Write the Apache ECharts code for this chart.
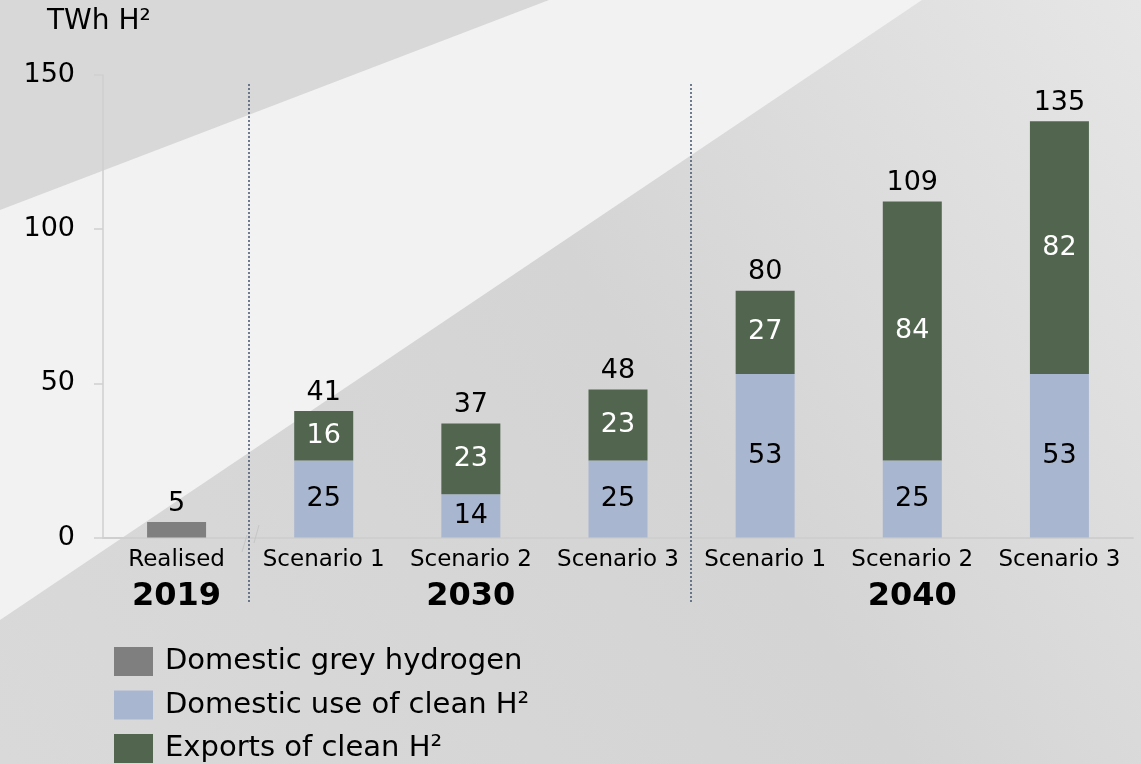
<!DOCTYPE html>
<html>
<head>
<meta charset="utf-8">
<script src="https://cdn.jsdelivr.net/npm/echarts@6/dist/echarts.min.js"></script>
<style>
  html, body { margin: 0; padding: 0; background: #d8d8d8; }
  #chart { width: 1141px; height: 764px; }
</style>
</head>
<body>
<div id="chart"></div>
<script>
// ---- data ----
const categories = ['Realised', 'Scenario 1', 'Scenario 2', 'Scenario 3', 'Scenario 1', 'Scenario 2', 'Scenario 3'];
const yearLabels = ['2019', '', '2030', '', '', '2040', ''];
const greyHydrogen = [5, '-', '-', '-', '-', '-', '-'];
const domesticClean = ['-', 25, 14, 25, 53, 25, 53];
const exportsClean = ['-', 16, 23, 23, 27, 84, 82];
const totals = [5, 41, 37, 48, 80, 109, 135];
const seriesNames = ['Domestic grey hydrogen', 'Domestic use of clean H²', 'Exports of clean H²'];
const yMin = 0, yMax = 150, yStep = 50;
const unitLabel = 'TWh H²';
// group separators lie between these category indices
const separatorsAfter = [0, 3];

const FONT = 'DejaVu Sans';
const chart = echarts.init(document.getElementById('chart'), null, { renderer: 'canvas' });

const background = [
  { type: 'rect', id: 'bg', z: -100, silent: true,
    shape: { x: 0, y: 0, width: 1141, height: 764 },
    style: { fill: new echarts.graphic.LinearGradient(1, 0, 0, 1, [
      { offset: 0, color: '#e6e6e6' }, { offset: 0.45, color: '#d4d4d4' }, { offset: 1, color: '#d9d9d9' }]) } },
  { type: 'polygon', id: 'bgTL', z: -99, silent: true,
    shape: { points: [[0, 0], [549, 0], [0, 210]] }, style: { fill: '#d8d8d8' } },
  { type: 'polygon', id: 'bgBand', z: -98, silent: true,
    shape: { points: [[0, 210], [549, 0], [922, 0], [0, 620]] }, style: { fill: '#f2f2f3' } }
];

const option = {
  backgroundColor: 'transparent',
  animation: false,
  textStyle: { fontFamily: FONT },
  title: {
    text: unitLabel, left: 47, top: 8, padding: 0,
    textStyle: { fontFamily: FONT, fontSize: 28, fontWeight: 'normal', color: '#000' }
  },
  legend: {
    data: seriesNames,
    orient: 'vertical', left: 114, top: 647, height: 130, padding: 0,
    itemWidth: 39, itemHeight: 29, itemGap: 14.5,
    icon: 'rect',
    textStyle: { fontFamily: FONT, fontSize: 29, color: '#000', padding: [0, 0, 0, 7] }
  },
  grid: { left: 103, right: 8, top: 75, bottom: 226.5, containLabel: false },
  xAxis: {
    type: 'category', data: categories,
    axisLine: { lineStyle: { color: '#cfcfcf', width: 2 } },
    axisTick: { show: false },
    axisLabel: {
      interval: 0, margin: 11,
      formatter: function (v, i) {
        return yearLabels[i] ? '{c|' + v + '}\n{y|' + yearLabels[i] + '}' : '{c|' + v + '}';
      },
      rich: {
        c: { fontFamily: FONT, fontSize: 23, color: '#000', lineHeight: 24 },
        y: { fontFamily: FONT, fontSize: 32, fontWeight: 'bold', color: '#000', lineHeight: 48 }
      }
    }
  },
  yAxis: {
    type: 'value', min: yMin, max: yMax, interval: yStep,
    axisLine: { show: true, lineStyle: { color: '#cfcfcf', width: 1.5 } },
    axisTick: { show: true, length: 9, lineStyle: { color: '#cfcfcf', width: 1.5 } },
    splitLine: { show: false },
    axisLabel: { fontFamily: FONT, fontSize: 27, color: '#000', margin: 28 }
  },
  graphic: background,
  series: [
    { name: seriesNames[0], type: 'bar', stack: 'h2', data: greyHydrogen, barWidth: 59,
      itemStyle: { color: '#7f7f7f' } },
    { name: seriesNames[1], type: 'bar', stack: 'h2', data: domesticClean, barWidth: 59,
      itemStyle: { color: '#a9b6d0' },
      label: { show: true, position: 'inside', fontFamily: FONT, fontSize: 27, color: '#000' } },
    { name: seriesNames[2], type: 'bar', stack: 'h2', data: exportsClean, barWidth: 59,
      itemStyle: { color: '#52664f' },
      label: { show: true, position: 'inside', fontFamily: FONT, fontSize: 27, color: '#fff' } },
    { name: 'Total', type: 'scatter', data: totals, symbolSize: 0, silent: true,
      itemStyle: { opacity: 1 },
      label: { show: true, position: 'top', distance: 5, fontFamily: FONT, fontSize: 27, color: '#000', opacity: 1 } }
  ]
};
chart.setOption(option);

// dotted group separators at category boundaries, plus faint axis-break marks
const extras = [];
separatorsAfter.forEach(function (i, k) {
  const a = chart.convertToPixel({ xAxisIndex: 0 }, i);
  const b = chart.convertToPixel({ xAxisIndex: 0 }, i + 1);
  const x = Math.round((a + b) / 2) - 1;
  extras.push({ type: 'line', id: 'sep' + k, z: 50, silent: true,
    shape: { x1: x, y1: 84, x2: x, y2: 602 },
    style: { stroke: '#44546f', lineWidth: 1.5, lineDash: [2, 2] } });
  if (k === 0) {
    extras.push({ type: 'line', id: 'brk' + k + 'a', z: 49, silent: true,
      shape: { x1: x - 7, y1: 552, x2: x - 2, y2: 535 }, style: { stroke: '#c6c6c6', lineWidth: 1 } });
    extras.push({ type: 'line', id: 'brk' + k + 'b', z: 49, silent: true,
      shape: { x1: x + 5, y1: 543, x2: x + 10, y2: 525 }, style: { stroke: '#c6c6c6', lineWidth: 1 } });
  }
});
chart.setOption({ graphic: background.concat(extras) });
</script>
</body>
</html>
